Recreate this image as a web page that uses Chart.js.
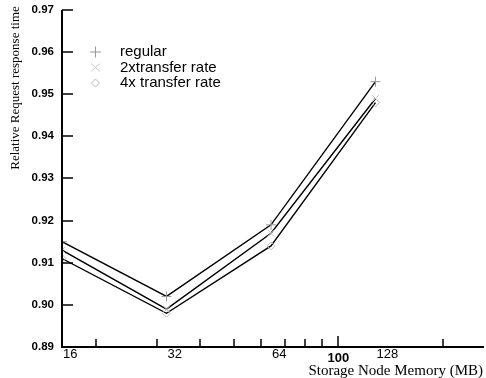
<!DOCTYPE html>
<html>
<head>
<meta charset="utf-8">
<script src="https://cdn.jsdelivr.net/npm/chart.js@4"></script>
<style>
  body { margin: 0; background: #fff; }
  #chart { display: block; }
</style>
</head>
<body>
<canvas id="chart" width="486" height="378"></canvas>
<script>
const memory = [16, 32, 64, 128];
const regular = [0.915, 0.902, 0.919, 0.953];
const transfer2x = [0.913, 0.899, 0.917, 0.949];
const transfer4x = [0.911, 0.898, 0.914, 0.948];
const seriesNames = ['regular', '2xtransfer rate', '4x transfer rate'];

const yTicks = [0.89, 0.90, 0.91, 0.92, 0.93, 0.94, 0.95, 0.96, 0.97];
const xLabels = [16, 32, 64, 100, 128];
const xMinorTicks = [20, 30, 40, 50, 60, 70, 80, 90, 200];
const xMajorTick = 100;

const markerColors = ['#999', '#c8c8c8', '#bbb'];
const markerStyles = ['cross', 'crossRot', 'rectRot'];

function series(values, i) {
  return {
    label: seriesNames[i],
    data: memory.map((m, j) => ({ x: m, y: values[j] })),
    borderColor: '#000',
    borderWidth: 1.4,
    pointStyle: markerStyles[i],
    pointRadius: i === 2 ? 4 : 5,
    pointBorderColor: markerColors[i],
    pointBackgroundColor: 'rgba(0,0,0,0)',
    pointBorderWidth: 1,
    tension: 0
  };
}

// axes, ticks, titles and legend drawn by hand (inward ticks, odd label placement)
const axesPlugin = {
  id: 'axesPlugin',
  afterDraw(chart) {
    const { ctx, chartArea: a, scales: { x, y } } = chart;
    ctx.save();
    ctx.strokeStyle = '#000';
    ctx.fillStyle = '#000';

    ctx.lineWidth = 2;
    ctx.beginPath();
    ctx.moveTo(a.left, a.top);
    ctx.lineTo(a.left, a.bottom);
    ctx.lineTo(484, a.bottom);
    ctx.stroke();

    // y ticks
    ctx.lineWidth = 1.5;
    ctx.font = 'bold 11.5px "Liberation Sans", Arial, sans-serif';
    ctx.textAlign = 'right';
    ctx.textBaseline = 'middle';
    yTicks.forEach(v => {
      const py = Math.round(y.getPixelForValue(v));
      ctx.beginPath();
      ctx.moveTo(a.left, py);
      ctx.lineTo(a.left + 11, py);
      ctx.stroke();
      ctx.fillText(v.toFixed(2), a.left - 8, py);
    });

    // x ticks
    xMinorTicks.forEach(v => {
      const px = Math.round(x.getPixelForValue(v));
      ctx.beginPath();
      ctx.moveTo(px, a.bottom);
      ctx.lineTo(px, a.bottom - 8);
      ctx.stroke();
    });
    const pm = Math.round(x.getPixelForValue(xMajorTick));
    ctx.beginPath();
    ctx.moveTo(pm, a.bottom);
    ctx.lineTo(pm, a.bottom - 11);
    ctx.stroke();

    // x labels
    ctx.textBaseline = 'alphabetic';
    xLabels.forEach(v => {
      const px = x.getPixelForValue(v);
      if (v === xMajorTick) {
        ctx.font = 'bold 13px "Liberation Sans", Arial, sans-serif';
        ctx.textAlign = 'center';
        ctx.fillText(String(v), px, a.bottom + 15);
      } else {
        ctx.font = '13px "Liberation Sans", Arial, sans-serif';
        ctx.textAlign = 'left';
        ctx.fillText(String(v), px + 1, a.bottom + 11);
      }
    });

    // titles
    ctx.font = '15px "Liberation Serif", "Times New Roman", serif';
    ctx.textAlign = 'right';
    ctx.fillText('Storage Node Memory (MB)', 483, 375);
    ctx.save();
    ctx.translate(19, 88);
    ctx.rotate(-Math.PI / 2);
    ctx.font = '13px "Liberation Serif", "Times New Roman", serif';
    ctx.textAlign = 'center';
    ctx.fillText('Relative Request response time', 0, 0);
    ctx.restore();

    // legend
    ctx.font = '15px "Liberation Sans", Arial, sans-serif';
    ctx.textAlign = 'left';
    ctx.textBaseline = 'middle';
    seriesNames.forEach((name, i) => {
      const ly = 52 + i * 15.5;
      ctx.strokeStyle = markerColors[i];
      ctx.lineWidth = 1;
      ctx.beginPath();
      if (i === 0) {
        ctx.moveTo(90, ly); ctx.lineTo(101, ly);
        ctx.moveTo(95.5, ly - 5.5); ctx.lineTo(95.5, ly + 5.5);
      } else if (i === 1) {
        ctx.moveTo(91, ly - 4); ctx.lineTo(100, ly + 4);
        ctx.moveTo(100, ly - 4); ctx.lineTo(91, ly + 4);
      } else {
        ctx.moveTo(95.5, ly - 4); ctx.lineTo(99.5, ly);
        ctx.lineTo(95.5, ly + 4); ctx.lineTo(91.5, ly); ctx.closePath();
      }
      ctx.stroke();
      ctx.fillStyle = '#000';
      ctx.fillText(name, 120, ly);
    });
    ctx.restore();
  }
};

new Chart(document.getElementById('chart'), {
  type: 'line',
  data: {
    datasets: [series(regular, 0), series(transfer2x, 1), series(transfer4x, 2)]
  },
  options: {
    responsive: false,
    animation: false,
    layout: { padding: { left: 62, top: 10, right: 2, bottom: 31 } },
    plugins: { legend: { display: false }, tooltip: { enabled: false } },
    scales: {
      x: { type: 'logarithmic', min: 16, max: 256, display: false },
      y: { min: 0.89, max: 0.97, display: false }
    }
  },
  plugins: [axesPlugin]
});
</script>
</body>
</html>
